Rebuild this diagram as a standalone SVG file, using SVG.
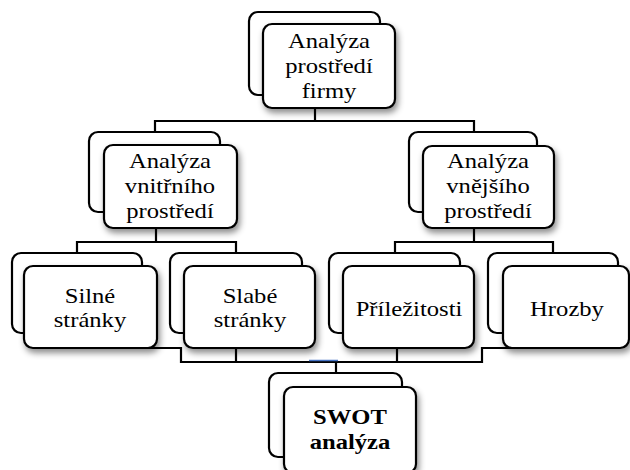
<svg xmlns="http://www.w3.org/2000/svg" width="630" height="470" viewBox="0 0 630 470">
<defs>
<filter id="sh" x="-20%" y="-20%" width="140%" height="150%">
<feDropShadow dx="2" dy="4" stdDeviation="3" flood-color="#000" flood-opacity="0.45"/>
</filter>
<style>
.bk{fill:#fff;stroke:#000;stroke-width:2.2}
.fr{fill:#fff;stroke:#000;stroke-width:2.2;filter:url(#sh)}
.ln{fill:none;stroke:#000;stroke-width:2.2}
.t{font-family:"Liberation Serif","Times New Roman",serif;font-size:22px;fill:#000;text-anchor:middle}
.b{font-weight:bold}
</style>
</defs>
<rect width="630" height="470" fill="#fff"/>
<g id="connectors">
<polyline class="ln" points="315,108 315,121"/>
<polyline class="ln" points="155,132 155,121 474,121 474,132"/>
<polyline class="ln" points="156,228 156,242"/>
<polyline class="ln" points="77,253 77,242 236,242 236,253"/>
<polyline class="ln" points="474,228 474,242"/>
<polyline class="ln" points="395,253 395,242 553,242 553,253"/>
<polyline class="ln" points="77,333 77,348 181,348 181,362 482,362 482,348 553,348 553,333"/>
<polyline class="ln" points="236,348 236,362"/>
<polyline class="ln" points="397,348 397,362"/>
<polyline class="ln" points="336,362 336,373"/>
<line x1="309" y1="360.5" x2="338" y2="360.5" stroke="#4472c4" stroke-width="1.5"/>
</g>
<g id="n-top">
<rect class="bk" x="249" y="12" width="131" height="83" rx="9"/>
<rect class="fr" x="263" y="24" width="132" height="84" rx="9"/>
<g transform="matrix(1.12 0 0 1 329 0)">
<text class="t" x="0" y="48">Analýza</text>
<text class="t" x="0" y="73">prostředí</text>
<text class="t" x="0" y="98">firmy</text>
</g>
</g>
<g id="n-vnitrni">
<rect class="bk" x="89" y="132" width="131" height="80" rx="9"/>
<rect class="fr" x="104" y="145" width="133" height="83" rx="9"/>
<g transform="matrix(1.12 0 0 1 170 0)">
<text class="t" x="0" y="168">Analýza</text>
<text class="t" x="0" y="193">vnitřního</text>
<text class="t" x="0" y="218">prostředí</text>
</g>
</g>
<g id="n-vnejsi">
<rect class="bk" x="409" y="132" width="128" height="80" rx="9"/>
<rect class="fr" x="423" y="146" width="131" height="82" rx="9"/>
<g transform="matrix(1.12 0 0 1 488 0)">
<text class="t" x="0" y="168">Analýza</text>
<text class="t" x="0" y="193">vnějšího</text>
<text class="t" x="0" y="218">prostředí</text>
</g>
</g>
<g id="n-silne">
<rect class="bk" x="12" y="253" width="130" height="80" rx="9"/>
<rect class="fr" x="24" y="266" width="133" height="82" rx="9"/>
<g transform="matrix(1.12 0 0 1 90 0)">
<text class="t" x="0" y="303">Silné</text>
<text class="t" x="0" y="327">stránky</text>
</g>
</g>
<g id="n-slabe">
<rect class="bk" x="170" y="253" width="132" height="80" rx="9"/>
<rect class="fr" x="184" y="266" width="131" height="82" rx="9"/>
<g transform="matrix(1.12 0 0 1 250 0)">
<text class="t" x="0" y="303">Slabé</text>
<text class="t" x="0" y="327">stránky</text>
</g>
</g>
<g id="n-prilezitosti">
<rect class="bk" x="329" y="253" width="131" height="80" rx="9"/>
<rect class="fr" x="343" y="266" width="131" height="82" rx="9"/>
<g transform="matrix(1.12 0 0 1 409 0)">
<text class="t" x="0" y="316">Příležitosti</text>
</g>
</g>
<g id="n-hrozby">
<rect class="bk" x="488" y="253" width="130" height="80" rx="9"/>
<rect class="fr" x="503" y="266" width="126" height="82" rx="9"/>
<g transform="matrix(1.12 0 0 1 567 0)">
<text class="t" x="0" y="316">Hrozby</text>
</g>
</g>
<g id="n-swot">
<rect class="bk" x="269" y="373" width="133" height="84" rx="9"/>
<rect class="fr" x="284" y="387" width="132" height="86" rx="9"/>
<g transform="matrix(1.12 0 0 1 350 0)">
<text class="t b" x="0" y="424">SWOT</text>
<text class="t b" x="0" y="449">analýza</text>
</g>
</g>
</svg>
